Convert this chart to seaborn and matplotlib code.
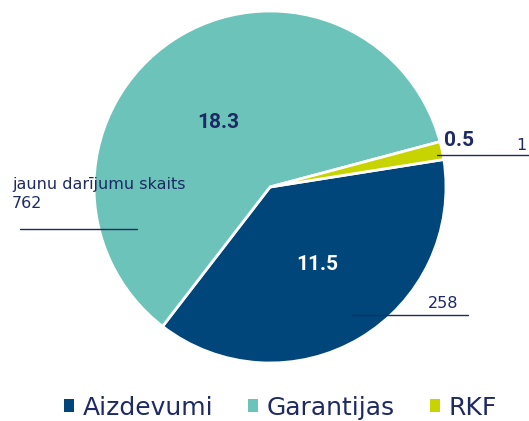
import matplotlib
matplotlib.use("Agg")
import matplotlib.pyplot as plt
import seaborn as sns
from matplotlib.patches import Patch

# dati
kategorijas = ["Aizdevumi", "Garantijas", "RKF"]
apjoms = [11.5, 18.3, 0.5]
darijumu_skaits = ["258", "762", "1"]
krasas = ["#00467a", "#6cc3b9", "#c8d400"]

sns.set_theme(style="white")
plt.rcParams['font.family'] = ['DejaVu Sans']
teksta_krasa = "#1d2a64"

fig = plt.figure(figsize=(5.29, 4.21), dpi=100)
ax = fig.add_axes([0, 0, 1, 1])

H = 421
cx, cy, r = 270, H - 187, 176

wedges, _ = ax.pie(apjoms, colors=krasas, startangle=9, counterclock=False,
                   center=(cx, cy), radius=r,
                   wedgeprops=dict(edgecolor="white", linewidth=2))

# vērtības segmentos
vert_stils = dict(ha="center", va="center", fontsize=15, fontweight="bold",
                  family=["Roboto", "DejaVu Sans"])
ax.text(218, H - 122, f"{apjoms[1]}", color=teksta_krasa, **vert_stils)
ax.text(317, H - 264, f"{apjoms[0]}", color="white", **vert_stils)
ax.text(459, H - 141, f"{apjoms[2]}", color=teksta_krasa, **vert_stils)

# darījumu skaits ar līnijām
ax.text(12, H - 194, "jaunu darījumu skaits\n" + darijumu_skaits[1], ha="left",
        va="center", fontsize=11.5, color=teksta_krasa, linespacing=1.35)
ax.plot([20, 137], [H - 229, H - 229], color=teksta_krasa, lw=1)
ax.text(458, H - 303, darijumu_skaits[0], ha="right", va="center", fontsize=11.5,
        color=teksta_krasa)
ax.plot([352, 468], [H - 315, H - 315], color=teksta_krasa, lw=1)
ax.text(516, H - 145, darijumu_skaits[2], ha="left", va="center", fontsize=11.5,
        color=teksta_krasa)
ax.plot([437, 529], [H - 155, H - 155], color=teksta_krasa, lw=1)

ax.set_xlim(0, 529)
ax.set_ylim(0, H)
ax.set_aspect("equal")
ax.axis("off")

rokturi = [Patch(facecolor=c, edgecolor="none") for c in krasas]
leg = fig.legend(rokturi, kategorijas, loc="lower center", ncol=3,
                 bbox_to_anchor=(0.53, -0.05), frameon=False, fontsize=18,
                 handlelength=0.4, handleheight=0.4, handletextpad=0.35,
                 columnspacing=1.4)
for t in leg.get_texts():
    t.set_color(teksta_krasa)

fig.savefig("out.png", dpi=100)
